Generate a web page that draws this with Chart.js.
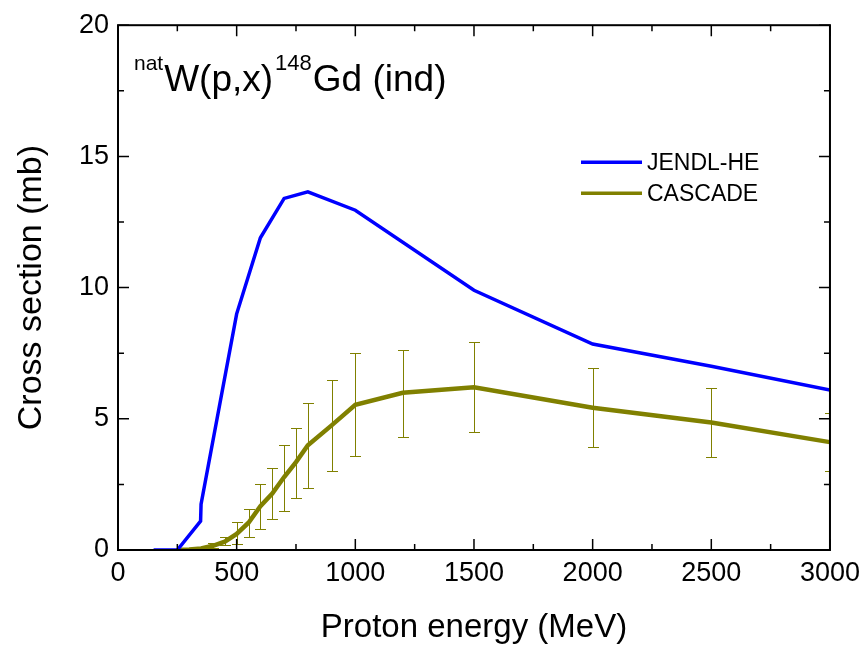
<!DOCTYPE html>
<html>
<head>
<meta charset="utf-8">
<script src="https://cdn.jsdelivr.net/npm/chart.js@4.4.0/dist/chart.umd.min.js"></script>
<style>
  html, body { margin: 0; padding: 0; background: #fff; }
  #wrap { width: 867px; height: 648px; }
</style>
</head>
<body>
<div id="wrap"><canvas id="xsCanvas"></canvas></div>
<script>
// natW(p,x)148Gd independent cross section
const jendlEnergy = [150, 250, 348, 350, 500, 600, 700, 800, 1000, 1500, 2000, 2500, 3000];
const jendlXs = [0, 0, 1.1, 1.75, 9.0, 11.9, 13.4, 13.65, 12.95, 9.9, 7.85, 7.0, 6.1];

const cascadeEnergy = [250, 300, 350, 400, 450, 500, 550, 600, 650, 700, 750, 800, 900, 1000, 1200, 1500, 2000, 2500, 3000];
const cascadeXs = [0, 0.02, 0.06, 0.16, 0.32, 0.61, 1.04, 1.67, 2.15, 2.78, 3.35, 3.99, 4.75, 5.53, 5.99, 6.2, 5.42, 4.86, 4.11];
const cascadeLow = [null, null, null, 0.08, 0.2, 0.22, 0.5, 0.79, 1.17, 1.48, 1.97, 2.37, 3.01, 3.57, 4.32, 4.48, 3.92, 3.54, 3.0];
const cascadeHigh = [null, null, null, 0.26, 0.48, 1.05, 1.57, 2.5, 3.13, 4.01, 4.65, 5.61, 6.46, 7.49, 7.62, 7.91, 6.92, 6.16, 5.23];

const xTickValues = [0, 500, 1000, 1500, 2000, 2500, 3000];
const yTickValues = [0, 5, 10, 15, 20];
const xMinorStep = 250;
const yMinorStep = 2.5;

const FONT = "'Liberation Sans', Arial, sans-serif";
const BLUE = "#0000ff";
const OLIVE = "#808000";

function toPoints(xs, ys) {
    return xs.map((v, i) => ({x: v, y: ys[i]}));
}

// error bars for the CASCADE curve
const errorBars = {
    id: "errorBars",
    beforeDatasetsDraw(chart) {
        const {ctx, chartArea: a, scales: {x, y}} = chart;
        ctx.save();
        ctx.beginPath();
        ctx.rect(a.left, a.top, a.right - a.left, a.bottom - a.top);
        ctx.clip();
        ctx.strokeStyle = OLIVE;
        ctx.lineWidth = 1;
        ctx.beginPath();
        cascadeEnergy.forEach((e, i) => {
            if (cascadeLow[i] == null) return;
            const px = Math.round(x.getPixelForValue(e)) + 0.5;
            const lo = Math.round(y.getPixelForValue(cascadeLow[i])) + 0.5;
            const hi = Math.round(y.getPixelForValue(cascadeHigh[i])) + 0.5;
            ctx.moveTo(px, lo); ctx.lineTo(px, hi);
            ctx.moveTo(px - 5.5, lo); ctx.lineTo(px + 5.5, lo);
            ctx.moveTo(px - 5.5, hi); ctx.lineTo(px + 5.5, hi);
        });
        ctx.stroke();
        ctx.restore();
    }
};

// box frame with inward ticks on all four sides
const frame = {
    id: "frame",
    afterDraw(chart) {
        const {ctx, chartArea: a, scales: {x, y}} = chart;
        ctx.save();
        ctx.strokeStyle = "#000";
        ctx.lineWidth = 1.5;
        ctx.beginPath();
        for (let v = x.min; v <= x.max; v += xMinorStep) {
            const px = x.getPixelForValue(v);
            const len = xTickValues.includes(v) ? 11 : 6;
            ctx.moveTo(px, a.bottom); ctx.lineTo(px, a.bottom - len);
            ctx.moveTo(px, a.top); ctx.lineTo(px, a.top + len);
        }
        for (let v = y.min; v <= y.max; v += yMinorStep) {
            const py = y.getPixelForValue(v);
            const len = yTickValues.includes(v) ? 11 : 6;
            ctx.moveTo(a.left, py); ctx.lineTo(a.left + len, py);
            ctx.moveTo(a.right, py); ctx.lineTo(a.right - len, py);
        }
        ctx.stroke();
        ctx.lineWidth = 2;
        ctx.strokeRect(a.left, a.top, a.right - a.left, a.bottom - a.top);
        ctx.restore();
    }
};

// reaction label and legend inside the plot
const annotations = {
    id: "annotations",
    afterDraw(chart) {
        const {ctx, chartArea: a} = chart;
        ctx.save();
        ctx.fillStyle = "#000";
        ctx.textBaseline = "alphabetic";
        const parts = [
            {t: "nat", size: 21, dy: -21},
            {t: "W(p,x)", size: 37, dy: 0},
            {t: "148", size: 22, dy: -21},
            {t: "Gd (ind)", size: 37, dy: 0}
        ];
        let tx = a.left + 16;
        const base = a.top + 66;
        parts.forEach(p => {
            ctx.font = p.size + "px " + FONT;
            ctx.fillText(p.t, tx, base + p.dy);
            tx += ctx.measureText(p.t).width + (p.size < 30 ? 1 : 2);
        });

        const items = [
            {label: "JENDL-HE", color: BLUE},
            {label: "CASCADE", color: OLIVE}
        ];
        ctx.font = "23px " + FONT;
        ctx.textBaseline = "middle";
        items.forEach((it, i) => {
            const ly = a.top + 137 + i * 31;
            ctx.strokeStyle = it.color;
            ctx.lineWidth = 3.5;
            ctx.beginPath();
            ctx.moveTo(a.left + 463, ly);
            ctx.lineTo(a.left + 524, ly);
            ctx.stroke();
            ctx.fillText(it.label, a.left + 529, ly + 1);
        });
        ctx.restore();
    }
};

const xsChart = new Chart(document.getElementById("xsCanvas"), {
    type: "scatter",
    data: {
        datasets: [{
            label: "JENDL-HE",
            data: toPoints(jendlEnergy, jendlXs),
            showLine: true,
            borderColor: BLUE,
            borderWidth: 3.5,
            pointRadius: 0,
            tension: 0
        }, {
            label: "CASCADE",
            data: toPoints(cascadeEnergy, cascadeXs),
            showLine: true,
            borderColor: OLIVE,
            borderWidth: 4.5,
            pointRadius: 0,
            tension: 0
        }]
    },
    options: {
        responsive: true,
        maintainAspectRatio: false,
        animation: false,
        layout: {padding: {top: 24, right: 35, left: 0, bottom: 0}},
        plugins: {legend: {display: false}, tooltip: {enabled: false}},
        scales: {
            x: {
                type: "linear",
                min: 0,
                max: 3000,
                grid: {display: false, drawTicks: false},
                border: {display: false},
                afterBuildTicks: s => { s.ticks = xTickValues.map(v => ({value: v})); },
                afterFit: s => { s.height = 98; },
                ticks: {padding: 7, color: "#000", font: {family: FONT, size: 27}, callback: v => String(v)},
                title: {
                    display: true,
                    text: "Proton energy (MeV)",
                    color: "#000",
                    font: {family: FONT, size: 33},
                    padding: {top: 0, bottom: 0}
                }
            },
            y: {
                type: "linear",
                min: 0,
                max: 20,
                grid: {display: false, drawTicks: false},
                border: {display: false},
                afterBuildTicks: s => { s.ticks = yTickValues.map(v => ({value: v})); },
                afterFit: s => { s.width = 118; },
                ticks: {padding: 9, color: "#000", font: {family: FONT, size: 27}, callback: v => String(v)},
                title: {
                    display: true,
                    text: "Cross section (mb)",
                    color: "#000",
                    font: {family: FONT, size: 34},
                    padding: {top: 11, bottom: 0}
                }
            }
        }
    },
    plugins: [errorBars, frame, annotations]
});
</script>
</body>
</html>
